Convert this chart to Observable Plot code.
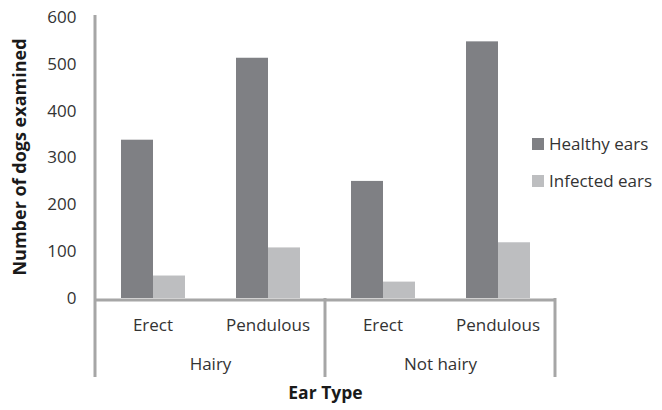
<!DOCTYPE html>
<html><head><meta charset="utf-8">
<script src="https://cdn.jsdelivr.net/npm/d3@7"></script>
<script src="https://cdn.jsdelivr.net/npm/@observablehq/plot@0.6"></script>
<style>
body{margin:0;background:#fff;}
#wrap{position:relative;width:662px;height:410px;}
.legend{position:absolute;left:532px;top:0;font-family:"Open Sans",sans-serif;font-size:17px;color:#333;}
.item{position:absolute;left:0;white-space:nowrap;display:flex;align-items:center;height:24px;line-height:24px;}
.sw{width:12px;height:12px;margin-right:5px;flex:none;}
</style></head><body><div id="wrap"></div>
<script>
const hairiness = ["Hairy", "Hairy", "Not hairy", "Not hairy"];
const earTypes = ["Erect", "Pendulous", "Erect", "Pendulous"];
const series = ["Healthy ears", "Infected ears"];
const healthy = [338, 513, 250, 548];
const infected = [48, 108, 35, 119];
const yTicks = [0, 100, 200, 300, 400, 500, 600];
const groups = ["Hairy", "Not hairy"];
const colors = ["#7f8084", "#bdbec0"];
const yTitle = "Number of dogs examined";
const xTitle = "Ear Type";

const keys = earTypes.map((e, i) => hairiness[i] + " · " + e);
const data = [];
keys.forEach((k, i) => {
  data.push({key: k, series: series[0], value: healthy[i]});
  data.push({key: k, series: series[1], value: infected[i]});
});
const catLabels = keys.map((k, i) => ({key: k, label: earTypes[i]}));
const groupLabels = groups.map(g => ({key: keys[hairiness.indexOf(g)], label: g}));

const plot = Plot.plot({
  width: 662, height: 410,
  marginLeft: 94, marginRight: 106, marginTop: 17, marginBottom: 112,
  style: {fontFamily: "'Open Sans', sans-serif", fontSize: "17px", color: "#333", background: "#fff", overflow: "visible"},
  fx: {domain: keys, padding: 0, axis: null},
  x: {domain: series, paddingInner: 0, paddingOuter: 0.76, axis: null},
  y: {domain: [0, 600], ticks: yTicks, tickSize: 0, tickPadding: 19, label: null},
  color: {domain: series, range: colors},
  marks: [
    Plot.barY(data, {fx: "key", x: "series", y: "value", fill: "series"}),
    Plot.ruleY([0], {stroke: "#a6a6a6", strokeWidth: 3, dy: 1.5}),
    Plot.text(catLabels, {fx: "key", text: "label", frameAnchor: "bottom", lineAnchor: "middle", dy: 27, fill: "#333"}),
    Plot.text(groupLabels, {fx: "key", text: "label", frameAnchor: "bottom-right", textAnchor: "middle", lineAnchor: "middle", dy: 66, fill: "#333"}),
    Plot.text([xTitle], {fx: () => keys[1], text: d => d, frameAnchor: "bottom-right", textAnchor: "middle", lineAnchor: "middle", dy: 95, fontWeight: "bold", fontSize: 17.5, fill: "#1a1a1a"}),
    Plot.text([yTitle], {fx: () => keys[0], text: d => d, frameAnchor: "left", textAnchor: "middle", lineAnchor: "middle", rotate: -90, dx: -75, dy: -1, fontWeight: "bold", fontSize: 18, fill: "#1a1a1a"})
  ]
});

document.getElementById("wrap").appendChild(plot);

// axis and category separator lines, positioned from Plot's own scales
const fxs = plot.scale("fx"), ys = plot.scale("y");
const y0 = ys.apply(0), yTop = ys.apply(600) - 2, yBot = y0 + 79;
const xs = [fxs.apply(keys[0]), fxs.apply(keys[2]), fxs.apply(keys[3]) + fxs.bandwidth];
const svg = d3.select(plot);
xs.forEach((x, i) => {
  svg.append("line")
    .attr("x1", x).attr("x2", x)
    .attr("y1", i === 0 ? yTop : y0).attr("y2", yBot)
    .attr("stroke", "#a6a6a6").attr("stroke-width", 3);
});

// legend
const color = plot.scale("color");
const leg = document.createElement("div");
leg.className = "legend";
const centers = [144, 181];
series.forEach((s, i) => {
  const it = document.createElement("div");
  it.className = "item";
  it.style.top = (centers[i] - 12) + "px";
  const sw = document.createElement("span");
  sw.className = "sw";
  sw.style.background = color.range[i];
  it.appendChild(sw);
  it.appendChild(document.createTextNode(s));
  leg.appendChild(it);
});
document.getElementById("wrap").appendChild(leg);
</script></body></html>
